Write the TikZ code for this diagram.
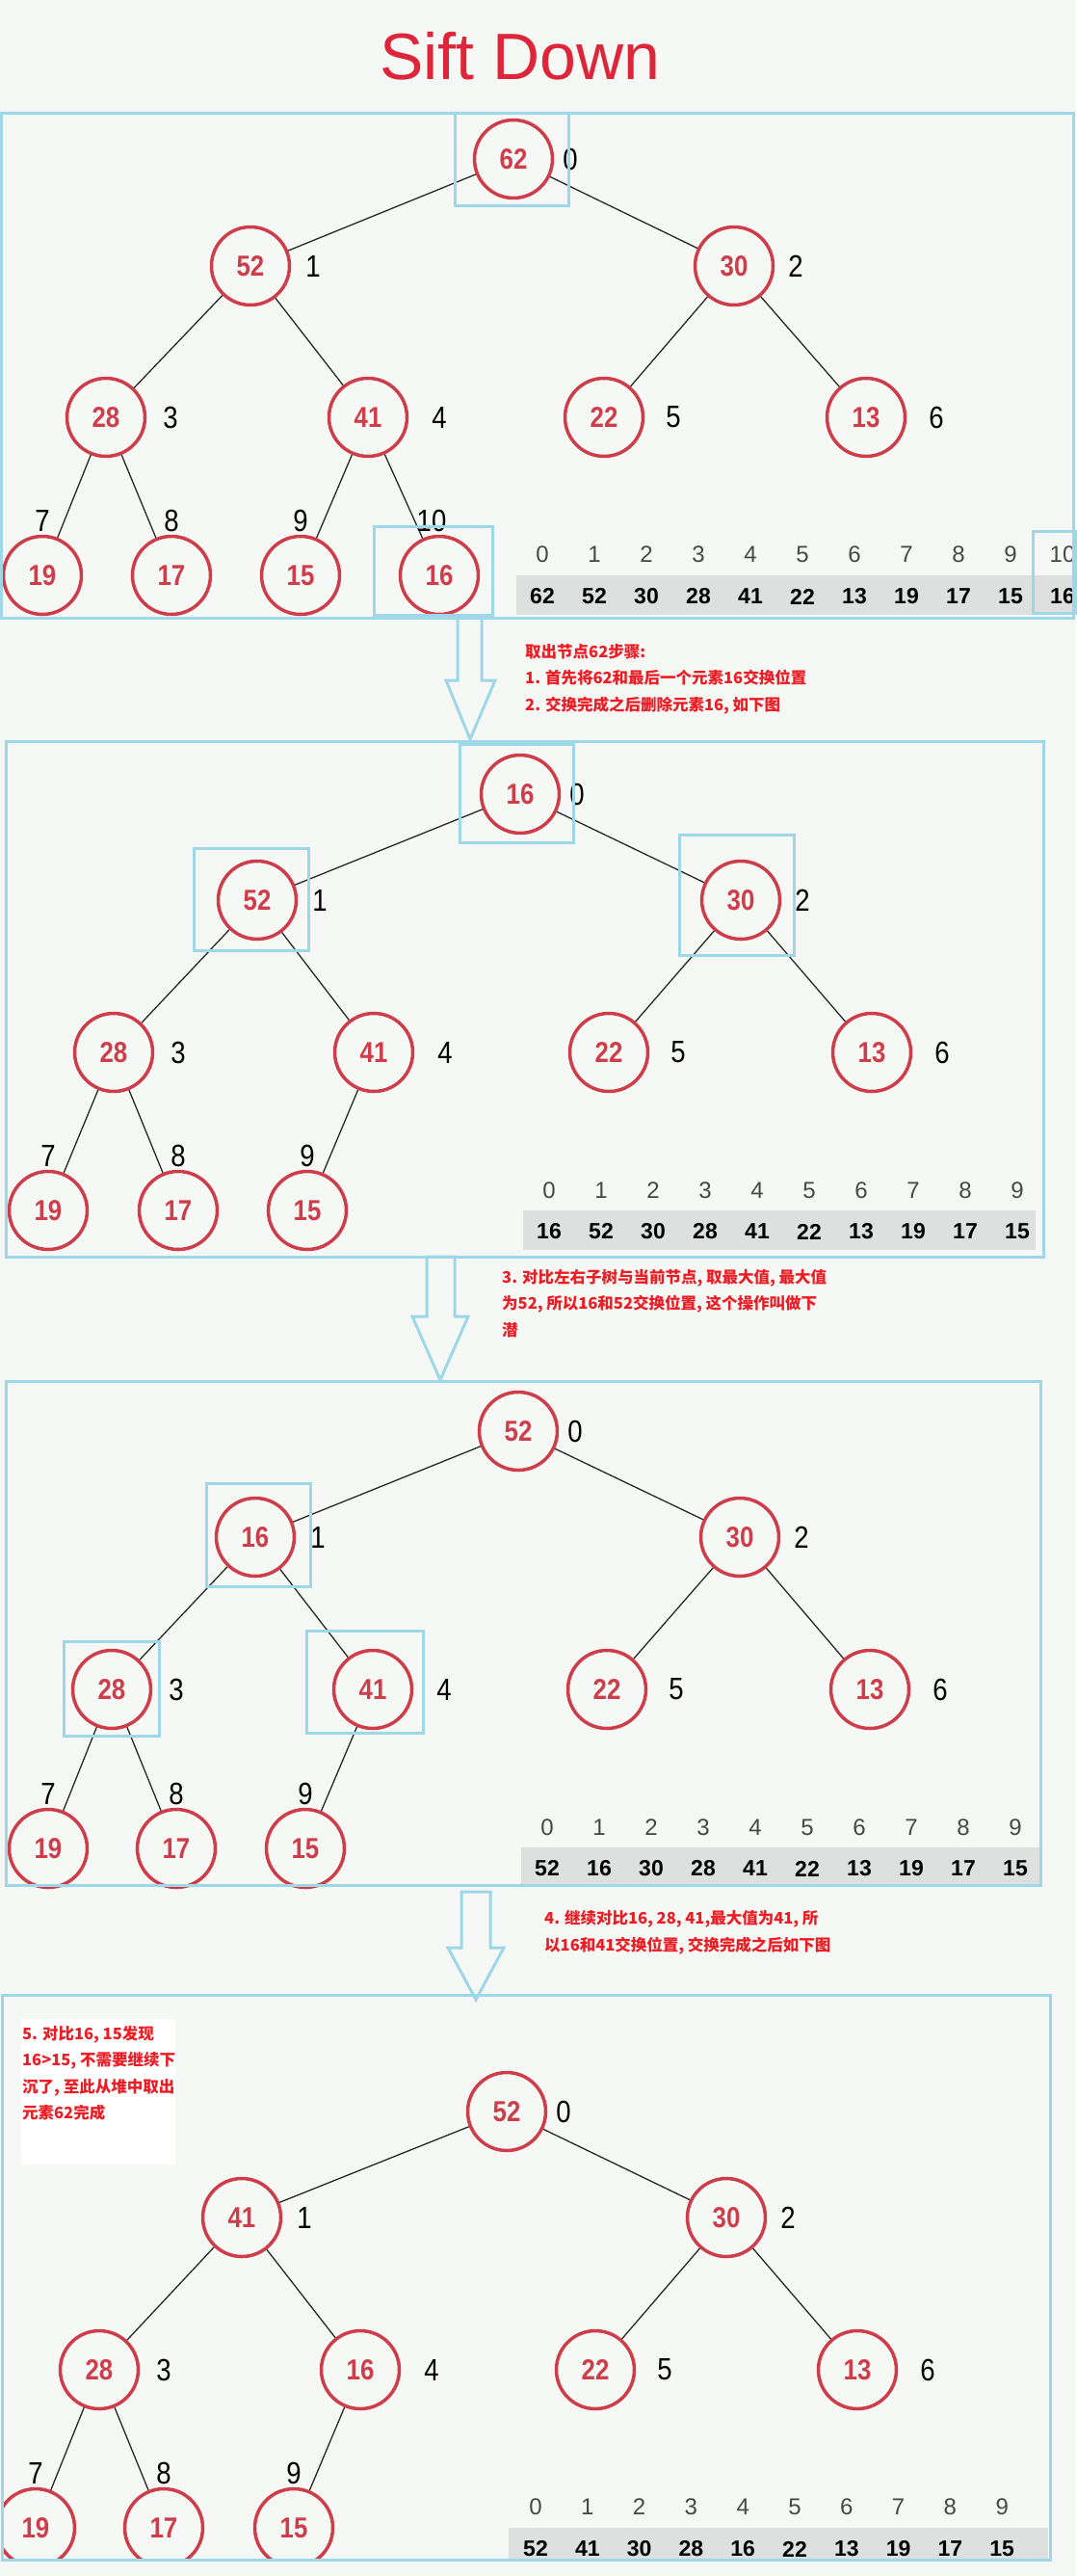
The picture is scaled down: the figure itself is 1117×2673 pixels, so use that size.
\documentclass[tikz,border=0pt]{standalone}
\usepackage{fontspec}
\setmainfont{Liberation Sans}
\newfontfamily\narrowfont[FakeStretch=0.86]{Liberation Sans}
\newfontfamily\cjk{Noto Sans CJK SC}
\usepackage{tikz}
\usetikzlibrary{positioning}
\definecolor{paperbg}{RGB}{246,248,245}
\definecolor{panelblue}{RGB}{157,215,232}
\definecolor{nodered}{RGB}{206,62,74}
\definecolor{notered}{RGB}{236,28,36}
\definecolor{titlered}{RGB}{222,38,58}
\definecolor{bandgray}{RGB}{222,223,223}
\definecolor{edgegray}{RGB}{40,40,40}
\begin{document}
\begin{tikzpicture}[x=1pt, y=-1pt,
  heap/.style={circle, draw=nodered, line width=3.5pt, fill=paperbg, minimum size=81pt, inner sep=0pt, text=nodered, font={\narrowfont\bfseries\fontsize{30}{30}\selectfont}},
  edge/.style={draw=edgegray, line width=1.3pt},
  lvl/.style={inner sep=0pt, text=black, font={\narrowfont\fontsize{32}{32}\selectfont}},
  aidx/.style={inner sep=0pt, text=black!72, font={\fontsize{24}{24}\selectfont}},
  aval/.style={inner sep=0pt, text=black, font={\bfseries\fontsize{23}{23}\selectfont}},
  panel/.style={draw=panelblue, line width=3pt},
  hlbox/.style={draw=panelblue, line width=3pt},
  hollow/.style={draw=panelblue, line width=3pt, line join=miter},
  note/.style={inner sep=0pt, anchor=north west, align=left, text=notered, font={\cjk\bfseries\fontsize{16.5}{27.5}\selectfont}}]
\useasboundingbox (0,0) rectangle (1117,2673);
\fill[paperbg] (0,0) rectangle (1117,2673);
\node[text=titlered, font={\fontsize{68}{68}\selectfont}] (title) at (540,58) {Sift Down};

% panel 1: take out 62
\fill[bandgray] (536,597) rectangle (1117,638);
\foreach \n/\x/\y/\v in {0/533/165/62, 1/260/276/52, 2/762/276/30, 3/110/433/28, 4/382/433/41, 5/627/433/22, 6/899/433/13, 7/44/597/19, 8/178/597/17, 9/312/597/15, 10/456/597/16}
  \node[heap] (p1n\n) at (\x,\y) {\v};
\foreach \a/\b in {0/1,0/2,1/3,1/4,2/5,2/6,3/7,3/8,4/9,4/10}
  \draw[edge] (p1n\a) -- (p1n\b);
\foreach \i/\g in {0/9,1/15,2/14,3/17,4/24,5/22,6/23}
  \node[lvl, right=\g pt of p1n\i] (p1l\i) {\i};
\foreach \i in {7,8,9}
  \node[lvl, above=3pt of p1n\i] (p1l\i) {\i};
\node[lvl, above=3pt of p1n10, xshift=-8pt] (p1l10) {10};
\foreach \i/\v in {0/62,1/52,2/30,3/28,4/41,5/22,6/13,7/19,8/17,9/15,10/16} {
  \node[aidx] (p1i\i) at ({563+54*\i},575) {\i};
  \node[aval] (p1v\i) at ({563+54*\i},619) {\v};
}
\draw[hlbox] (472,118) rectangle (590,214);
\draw[hlbox] (388,546) rectangle (511,638);
\draw[hlbox] (1072,551) rectangle (1117,636);
\draw[panel] (1.5,118) rectangle (1114,641);

\draw[hollow] (475,641) -- (475,706) -- (463,706) -- (488,767) -- (514,706) -- (500,706) -- (500,641) -- cycle;
\node[note] (step1) at (545,668) {取出节点62步骤:\\1. 首先将62和最后一个元素16交换位置\\2. 交换完成之后删除元素16, 如下图};

% panel 2: 16 on top
\fill[bandgray] (543,1256) rectangle (1075,1297);
\foreach \n/\x/\y/\v in {0/540/824/16, 1/267/934/52, 2/769/934/30, 3/118/1092/28, 4/388/1092/41, 5/632/1092/22, 6/905/1092/13, 7/50/1256/19, 8/185/1256/17, 9/319/1256/15}
  \node[heap] (p2n\n) at (\x,\y) {\v};
\foreach \a/\b in {0/1,0/2,1/3,1/4,2/5,2/6,3/7,3/8,4/9}
  \draw[edge] (p2n\a) -- (p2n\b);
\foreach \i/\g in {0/9,1/15,2/14,3/17,4/24,5/22,6/23}
  \node[lvl, right=\g pt of p2n\i] (p2l\i) {\i};
\foreach \i in {7,8,9}
  \node[lvl, above=3pt of p2n\i] (p2l\i) {\i};
\foreach \i/\v in {0/16,1/52,2/30,3/28,4/41,5/22,6/13,7/19,8/17,9/15} {
  \node[aidx] (p2i\i) at ({570+54*\i},1235) {\i};
  \node[aval] (p2v\i) at ({570+54*\i},1278) {\v};
}
\draw[hlbox] (477,772) rectangle (595,874);
\draw[hlbox] (201,880) rectangle (320,986);
\draw[hlbox] (705,866) rectangle (824,991);
\draw[panel] (6,769) rectangle (1083,1304);

\draw[hollow] (443,1304) -- (443,1366) -- (428,1366) -- (457,1432) -- (486,1366) -- (472,1366) -- (472,1304) -- cycle;
\node[note] (step3) at (521,1317) {3. 对比左右子树与当前节点, 取最大值, 最大值\\为52, 所以16和52交换位置, 这个操作叫做下\\潜};

% panel 3: 52 and 16 swapped
\fill[bandgray] (541,1917) rectangle (1080,1957);
\foreach \n/\x/\y/\v in {0/538/1485/52, 1/265/1595/16, 2/768/1595/30, 3/116/1753/28, 4/387/1753/41, 5/630/1753/22, 6/903/1753/13, 7/50/1918/19, 8/183/1918/17, 9/317/1918/15}
  \node[heap] (p3n\n) at (\x,\y) {\v};
\foreach \a/\b in {0/1,0/2,1/3,1/4,2/5,2/6,3/7,3/8,4/9}
  \draw[edge] (p3n\a) -- (p3n\b);
\foreach \i/\g in {0/9,1/15,2/14,3/17,4/24,5/22,6/23}
  \node[lvl, right=\g pt of p3n\i] (p3l\i) {\i};
\foreach \i in {7,8,9}
  \node[lvl, above=3pt of p3n\i] (p3l\i) {\i};
\foreach \i/\v in {0/52,1/16,2/30,3/28,4/41,5/22,6/13,7/19,8/17,9/15} {
  \node[aidx] (p3i\i) at ({568+54*\i},1896) {\i};
  \node[aval] (p3v\i) at ({568+54*\i},1939) {\v};
}
\draw[hlbox] (214,1539) rectangle (322,1646);
\draw[hlbox] (66,1703) rectangle (165,1801);
\draw[hlbox] (318,1692) rectangle (439,1798);
\draw[panel] (6,1433) rectangle (1080,1956);

\draw[hollow] (479,1963) -- (479,2021) -- (465,2021) -- (494,2075) -- (523,2021) -- (509,2021) -- (509,1963) -- cycle;
\node[note] (step4) at (565,1982) {4. 继续对比16, 28, 41,最大值为41, 所\\以16和41交换位置, 交换完成之后如下图};

% panel 4: result
\begin{scope}
\clip (2,2070) rectangle (1090,2655);
\fill[bandgray] (528,2623) rectangle (1088,2656);
\foreach \n/\x/\y/\v in {0/526/2191/52, 1/251/2301/41, 2/754/2301/30, 3/103/2459/28, 4/374/2459/16, 5/618/2459/22, 6/890/2459/13, 7/37/2623/19, 8/170/2623/17, 9/305/2623/15}
  \node[heap] (p4n\n) at (\x,\y) {\v};
\foreach \a/\b in {0/1,0/2,1/3,1/4,2/5,2/6,3/7,3/8,4/9}
  \draw[edge] (p4n\a) -- (p4n\b);
\foreach \i/\g in {0/9,1/15,2/14,3/17,4/24,5/22,6/23}
  \node[lvl, right=\g pt of p4n\i] (p4l\i) {\i};
\foreach \i in {7,8,9}
  \node[lvl, above=3pt of p4n\i] (p4l\i) {\i};
\foreach \i/\v in {0/52,1/41,2/30,3/28,4/16,5/22,6/13,7/19,8/17,9/15} {
  \node[aidx] (p4i\i) at ({556+53.8*\i},2601) {\i};
  \node[aval] (p4v\i) at ({556+53.8*\i},2645) {\v};
}
\end{scope}
\fill[white] (22,2095) rectangle (182,2246);
\node[note] (step5) at (23,2102) {5. 对比16, 15发现\\16>15, 不需要继续下\\沉了, 至此从堆中取出\\元素62完成};
\draw[panel] (2,2070) rectangle (1090,2656);
\end{tikzpicture}
\end{document}
